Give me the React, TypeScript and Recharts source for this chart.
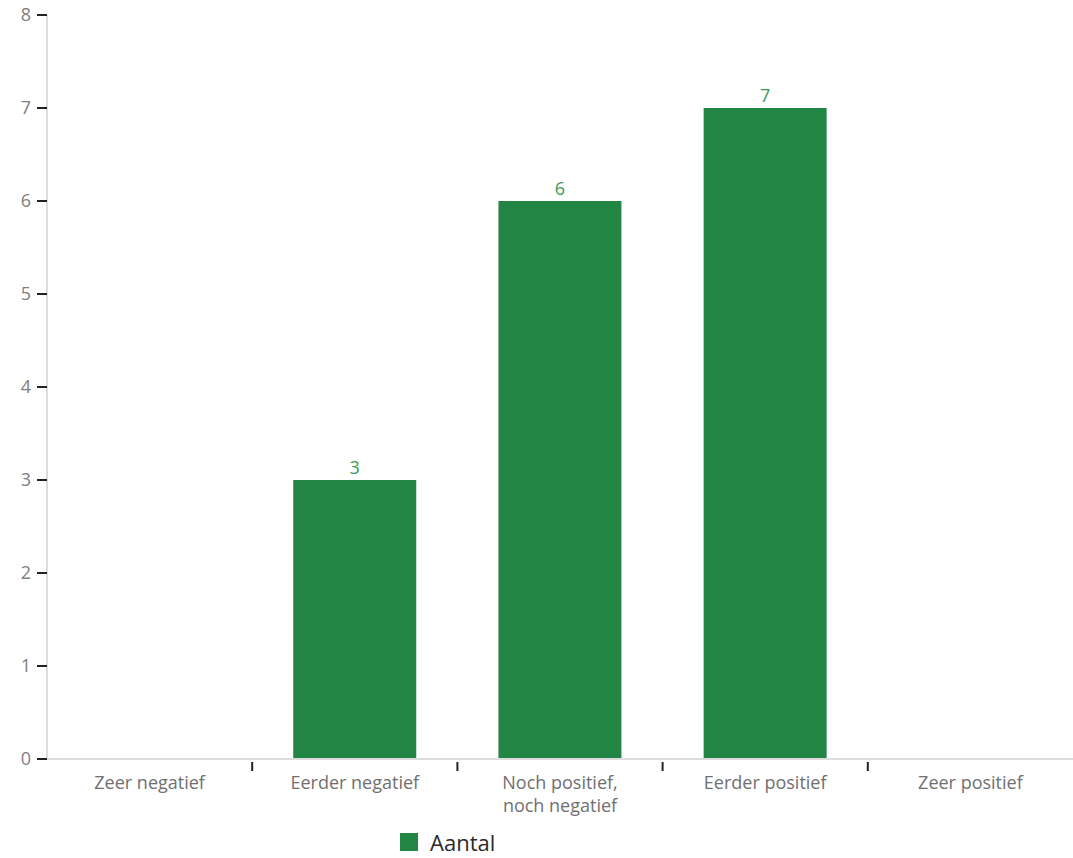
import { BarChart, Bar, XAxis, YAxis, Legend, LabelList } from 'recharts';

const categories = [
  'Zeer negatief',
  'Eerder negatief',
  'Noch positief,\nnoch negatief',
  'Eerder positief',
  'Zeer positief',
];
const aantal = [0, 3, 6, 7, 0];
const yTicks = [0, 1, 2, 3, 4, 5, 6, 7, 8];

const data = categories.map((name, i) => ({ name, Aantal: aantal[i] }));

const FONT = '"Open Sans", sans-serif';
const BAR_COLOR = '#228543';

// category labels sit in the middle of each band, tick marks go on the band edges
function CategoryTick(props: any) {
  const { x, y, payload, index, visibleTicksCount } = props;
  const lines = String(payload.value).split('\n');
  const half = payload.offset ?? 0;
  const last = index === (visibleTicksCount ?? categories.length) - 1;
  return (
    <g>
      {!last && (
        <line x1={x + half} x2={x + half} y1={y - 5} y2={y + 4} stroke="#222" strokeWidth={2} />
      )}
      <text x={x} y={y} textAnchor="middle" fill="#707070" fontSize={18} fontFamily={FONT}>
        {lines.map((l, i) => (
          <tspan key={i} x={x} dy={i === 0 ? 22 : 23}>
            {l}
          </tspan>
        ))}
      </text>
    </g>
  );
}

function ValueLabel(props: any) {
  const { x, y, width, value } = props;
  if (!value) return null;
  return (
    <text x={x + width / 2} y={y - 6} textAnchor="middle" fill="#3b9a5b" fontSize={18} fontFamily={FONT}>
      {value}
    </text>
  );
}

function LegendContent() {
  return (
    <div style={{ display: 'flex', alignItems: 'center', height: 40, paddingLeft: 400, paddingTop: 8, boxSizing: 'border-box' }}>
      <span style={{ width: 18, height: 18, background: BAR_COLOR, display: 'inline-block', marginRight: 12 }} />
      <span style={{ fontFamily: FONT, fontSize: 22, color: '#2a2a2a' }}>Aantal</span>
    </div>
  );
}

export default function App() {
  return (
    <div style={{ position: 'absolute', left: 0, top: 0, background: '#fff' }}>
      <BarChart
        width={1073}
        height={858}
        data={data}
        margin={{ top: 15, right: 0, bottom: 0, left: 0 }}
        barCategoryGap="20%"
      >
        <XAxis
          dataKey="name"
          interval={0}
          height={59}
          tickLine={false}
          tickSize={8}
          tickMargin={0}
          axisLine={{ stroke: '#dcdcdc', strokeWidth: 2 }}
          tick={<CategoryTick />}
        />
        <YAxis
          width={47}
          domain={[0, 8]}
          ticks={yTicks}
          interval={0}
          tickSize={10}
          tickMargin={6}
          axisLine={{ stroke: '#dcdcdc', strokeWidth: 2 }}
          tickLine={{ stroke: '#222', strokeWidth: 2 }}
          tick={{ fill: '#808080', fontSize: 18, fontFamily: FONT }}
        />
        <Legend verticalAlign="bottom" height={40} content={<LegendContent />} />
        <Bar dataKey="Aantal" fill={BAR_COLOR} isAnimationActive={false}>
          <LabelList dataKey="Aantal" content={<ValueLabel />} />
        </Bar>
      </BarChart>
    </div>
  );
}
